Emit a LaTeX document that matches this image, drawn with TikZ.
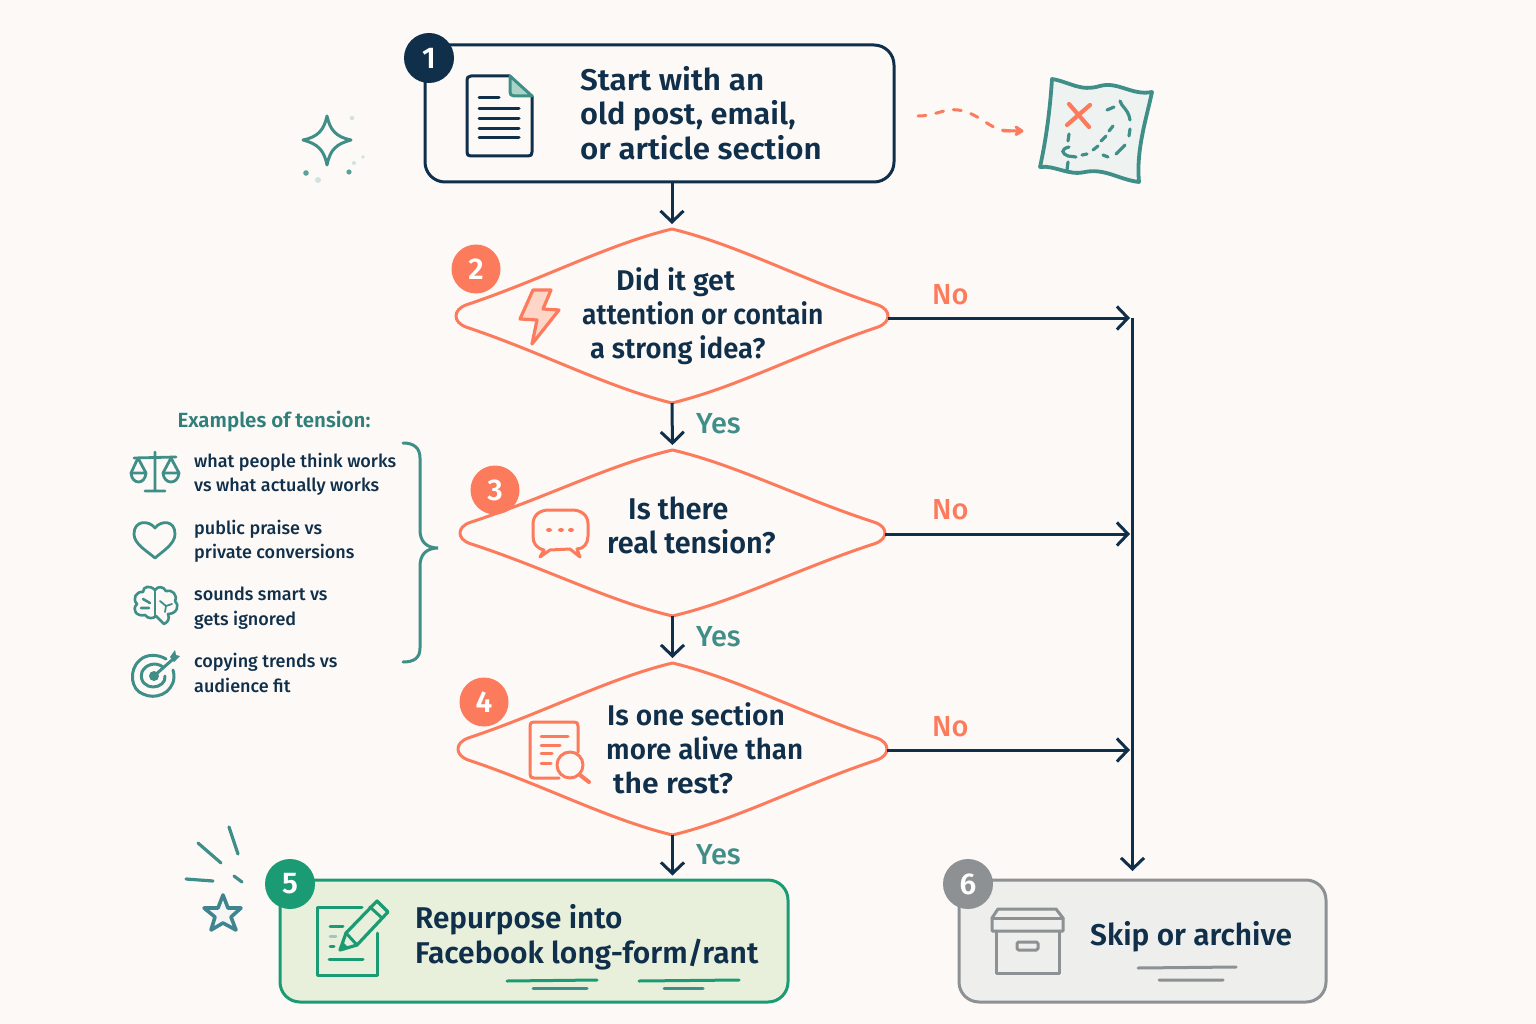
\documentclass[tikz,border=0pt]{standalone}
\usepackage{fontspec}
\usepackage{graphicx}
\setmainfont{Fira Sans}[UprightFont={* Medium},BoldFont={* SemiBold}]
\usetikzlibrary{shapes.geometric,arrows.meta,calc}
\definecolor{navy}{HTML}{0F2F4A}
\definecolor{coral}{HTML}{FB7B5C}
\definecolor{teal}{HTML}{3F8F88}
\definecolor{tealtx}{HTML}{2F7F7A}
\definecolor{leaf}{HTML}{1B9B74}
\definecolor{slate}{HTML}{8D9193}
\definecolor{paper}{HTML}{FDF9F6}
\newcommand\sx[2]{\scalebox{#1}[1]{#2}}
\newcommand\dmdpath{(-1,0) .. controls (-1,-.05) and (-.985,-.1) .. (-.95,-.13) .. controls (-.6,-.42) and (-.3,-.82) .. (0,-1)
 .. controls (.3,-.82) and (.6,-.42) .. (.95,-.13) .. controls (.985,-.1) and (1,-.05) .. (1,0)
 .. controls (1,.05) and (.985,.1) .. (.95,.13) .. controls (.6,.42) and (.3,.82) .. (0,1)
 .. controls (-.3,.82) and (-.6,.42) .. (-.95,.13) .. controls (-.985,.1) and (-1,.05) .. (-1,0) -- cycle}
\tikzset{
 x=1pt,y=-1pt,
 flow/.style={line width=3pt,draw=navy,-{Straight Barb[length=11pt,width=23pt,line width=3pt]}},
 bx/.style={rectangle,rounded corners=20pt,line width=3pt,inner sep=0pt},
 dnode/.style={diamond,inner sep=0pt,outer sep=0pt},
 dline/.style={line width=3pt,draw=coral,line join=round,fill=none},
 badge/.style={circle,inner sep=0pt,text=white,font=\fontsize{30}{30}\selectfont\bfseries},
 ttl/.style={anchor=west,align=left,text=navy,inner sep=0pt,font=\fontsize{30}{34.5}\selectfont\bfseries},
 tts/.style={anchor=west,align=left,text=navy,inner sep=0pt,font=\fontsize{28.5}{34}\selectfont\bfseries},
 small/.style={anchor=west,align=left,text=navy,inner sep=0pt,font=\fontsize{18}{24.5}\selectfont},
 yes/.style={text=teal,inner sep=0pt,font=\fontsize{29}{29}\selectfont},
 no/.style={text=coral,inner sep=0pt,font=\fontsize{29}{29}\selectfont},
 ico/.style={line cap=round,line join=round},
}
\begin{document}
\begin{tikzpicture}
\useasboundingbox (0,0) rectangle (1536,1024);
\fill[paper] (0,0) rectangle (1536,1024);

% boxes
\node[bx,draw=navy,fill=paper,minimum width=469,minimum height=137] (b1) at (659.5,113.5) {};
\node[bx,draw=leaf,fill={rgb,255:red,232;green,240;blue,220},minimum width=508,minimum height=122] (b5) at (534,941) {};
\node[bx,draw=slate,fill={rgb,255:red,238;green,238;blue,236},minimum width=367,minimum height=122] (b6) at (1142.5,941) {};

% decision diamonds
\node[dnode,minimum width=432,minimum height=174] (d2) at (672,316) {};
\node[dnode,minimum width=425,minimum height=166] (d3) at (672.5,533) {};
\node[dnode,minimum width=429,minimum height=172] (d4) at (672.5,749) {};
\begin{scope}[shift={(672,316)},xscale=216,yscale=87]\path[dline] \dmdpath;\end{scope}
\begin{scope}[shift={(672.5,533)},xscale=212.5,yscale=83]\path[dline] \dmdpath;\end{scope}
\begin{scope}[shift={(672.5,749)},xscale=214.5,yscale=86]\path[dline] \dmdpath;\end{scope}

% connectors
\coordinate (t2) at (1130,318);
\coordinate (t3) at (1130,534);
\coordinate (t4) at (1130,750);
\coordinate (t0) at (1132.5,318);
\coordinate (t9) at (1132.5,871);
\coordinate (d2e) at (888,318);
\coordinate (d3e) at (885,534);
\coordinate (d4e) at (887,750);
\draw[flow,shorten >=5pt] (b1.south -| d2.north) -- (d2.north);
\draw[flow,shorten >=5pt] (d2.south) -- (d3.north);
\draw[flow,shorten >=5pt] (d3.south) -- (d4.north);
\draw[flow,shorten >=3pt] (d4.south) -- (b5.north -| d4.south);
\draw[flow] (d2e) -- (t2);
\draw[flow] (d3e) -- (t3);
\draw[flow] (d4e) -- (t4);
\draw[flow] (t0) -- (t9);

% edge labels
\node[no,anchor=west] (n2) at (932,295) {No};
\node[no,anchor=west] (n3) at (932,510) {No};
\node[no,anchor=west] (n4) at (932,727) {No};
\node[yes,anchor=west] (y2) at (696,424) {Yes};
\node[yes,anchor=west] (y3) at (696,637) {Yes};
\node[yes,anchor=west] (y4) at (696,855) {Yes};

% main text
\node[ttl] (tx1) at (580,113) {\sx{1.048}{Start with an}\\\sx{1.024}{old post, email,}\\\sx{1.042}{or article section}};
\node[tts] (tx2) at (582,316) {\hspace*{34pt}\sx{1.007}{Did it get}\\\sx{.929}{attention or contain}\\\hspace*{8pt}\sx{.963}{a strong idea?}};
\node[ttl] (tx3) at (607,525.5) {\hspace*{21pt}\sx{.97}{Is there}\\\sx{.96}{real tension?}};
\node[tts] (tx4) at (606,748.5) {\hspace*{1pt}\sx{.988}{Is one section}\\\sx{.975}{more alive than}\\\hspace*{7pt}\sx{1.057}{the rest?}};
\node[ttl] (tx5) at (415,937) {\sx{.99}{Repurpose into}\\\sx{1.0}{Facebook long-form/rant}};
\node[ttl] (tx6) at (1090,937) {\sx{.995}{Skip or archive}};

% badges
\node[badge,fill=navy,minimum size=50] (c1) at (429,58) {1};
\node[badge,fill=coral,minimum size=49] (c2) at (476,269) {2};
\node[badge,fill=coral,minimum size=49] (c3) at (495,490) {3};
\node[badge,fill=coral,minimum size=49] (c4) at (484,702) {4};
\node[badge,fill=leaf,minimum size=50] (c5) at (290,884) {5};
\node[badge,fill=slate,minimum size=50] (c6) at (968,884) {6};

% side list
\node[anchor=center,text=tealtx,inner sep=0pt,font=\fontsize{20.5}{24}\selectfont\bfseries] (ex) at (274,422) {Examples of tension:};
\node[small] (s1) at (194,474.5) {what people think works\\vs what actually works};
\node[small] (s2) at (194,541.5) {public praise vs\\private conversions};
\node[small] (s3) at (194,608) {sounds smart vs\\gets ignored};
\node[small] (s4) at (194,673) {copying trends vs\\audience fit};
\draw[teal,line width=3pt,line cap=round] (403,443) .. controls (414,443) and (420,448) .. (420,458) -- (420,530) .. controls (420,541) and (426,548) .. (438,548) .. controls (426,548) and (420,555) .. (420,566) -- (420,648) .. controls (420,658) and (414,662) .. (403,662);

% document icon
\begin{scope}[ico,navy,line width=3pt]
\draw (510,76) -- (471,76) .. controls (468,76) and (467,78) .. (467,80) -- (467,152) .. controls (467,155) and (468,156) .. (471,156) -- (528,156) .. controls (531,156) and (532,155) .. (532,152) -- (532,96);
\fill[fill={rgb,255:red,168;green,212;blue,200},draw=teal] (510,76) -- (532,96) -- (514,96) .. controls (511,96) and (510,94) .. (510,92) -- cycle;
\draw (479,98) -- (499,98) (479,109) -- (519,109) (479,119) -- (519,119) (479,129) -- (519,129) (479,138) -- (519,138);
\end{scope}

% sparkle
\draw[teal,line width=3pt,line join=round] (327,116) .. controls (330,130) and (336,137) .. (351,140) .. controls (336,144) and (330,150) .. (327,165) .. controls (324,150) and (318,144) .. (303,140) .. controls (318,137) and (324,130) .. (327,116) -- cycle;
\fill[teal!25] (352,118) circle (2.2) (363,157) circle (1.8) (354,163) circle (2) (318,180) circle (3);
\fill[teal!85] (349,172) circle (2.6) (306,173) circle (2.8);

% dashed coral arrow
\draw[coral,line width=3pt,line cap=round,dash pattern=on 8pt off 10pt] (918,116) .. controls (935,116) and (945,108) .. (958,110) .. controls (975,112) and (985,124) .. (1000,130) -- (1012,131);
\draw[coral,line width=3pt,line cap=round,line join=round] (1003,131) -- (1021,131) (1016,127) -- (1022,131) -- (1016,134.5);

% map
\draw[teal,line width=3.8pt,line join=round,fill={rgb,255:red,238;green,243;blue,242}] (1052,79) .. controls (1070,82) and (1080,92) .. (1100,86) .. controls (1118,81) and (1132,96) .. (1152,92) .. controls (1146,120) and (1136,150) .. (1139,182) .. controls (1120,180) and (1105,168) .. (1085,172) .. controls (1068,176) and (1055,165) .. (1040,167) .. controls (1046,140) and (1050,110) .. (1052,79) -- cycle;
\draw[coral,line width=4.2pt,line cap=round] (1069,104) -- (1089,127) (1090,105) -- (1067,125);
\begin{scope}[teal,line width=3.2pt,line cap=round]
\draw (1069,134) -- (1068,141);
\draw (1069,147) .. controls (1060,149) and (1062,154) .. (1068,156) -- (1076,157);
\draw (1068,162) -- (1067,170);
\draw (1082,155) -- (1087,154);
\draw (1093,150) -- (1098,146) (1101,141) -- (1106,136) (1109,131) -- (1113,126);
\draw (1107,110) -- (1114,107);
\draw (1120,101) -- (1122,105) .. controls (1126,110) and (1129,113) .. (1130,120);
\draw (1130,129) -- (1129,136);
\draw (1125,145) -- (1116,154);
\draw (1108,157) -- (1103,155);
\end{scope}

% scale icon
\begin{scope}[ico,teal,line width=2.8pt]
\draw (155,452) -- (155,491) (145,491) -- (165,491) (134,458) -- (176,457);
\draw (138,458) -- (131,473) (138,458) -- (146,473) (171,458) -- (163,473) (171,458) -- (179,473);
\draw (131,473) -- (146,473) .. controls (145,485) and (132,485) .. (131,473) -- cycle;
\draw (163,473) -- (179,473) .. controls (178,485) and (164,485) .. (163,473) -- cycle;
\end{scope}
% heart
\draw[teal,line width=2.8pt,line join=round] (155,528) .. controls (149,520) and (134,520) .. (134,534) .. controls (134,544) and (147,551) .. (155,558) .. controls (163,551) and (175,544) .. (175,534) .. controls (175,520) and (161,520) .. (155,528) -- cycle;
% brain
\begin{scope}[ico,teal,line width=2.6pt]
\draw (155,590) .. controls (150,585) and (143,586) .. (143,592) .. controls (136,591) and (132,599) .. (137,604) .. controls (131,610) and (137,617) .. (145,615) .. controls (148,619) and (153,619) .. (156,616) -- (164,624) .. controls (168,622) and (170,619) .. (168,614) .. controls (177,614) and (180,605) .. (175,601) .. controls (178,595) and (172,589) .. (166,591) .. controls (163,586) and (158,586) .. (155,590) -- cycle;
\draw (155,590) -- (155,616);
\draw (143,599) -- (150,603) (141,608) -- (149,608);
\draw[line width=1.8pt] (160,601) -- (166,606) -- (172,604) (166,606) -- (165,612);
\end{scope}
% target
\begin{scope}[ico,teal,line width=3pt]
\draw (166,659) .. controls (158,654) and (146,654) .. (140,660) .. controls (128,670) and (131,690) .. (143,694) .. controls (155,700) and (172,694) .. (174,678) .. controls (174,675) and (174,673) .. (173,670);
\draw (163,667) .. controls (155,661) and (145,665) .. (142,672) .. controls (139,682) and (147,687) .. (153,687) .. controls (160,687) and (166,682) .. (165,676);
\fill (154,676) circle (5);
\draw (154,676) -- (172,660);
\fill (170,657) -- (175,650) -- (176,655) -- (180,656) -- (174,662) -- cycle;
\end{scope}

% bolt
\draw[coral,line width=3.2pt,line join=round,fill={rgb,255:red,255;green,213;blue,200}] (533,290) -- (551,290) -- (543,309) -- (559,310) -- (532,344) -- (537,320) -- (520,319) -- cycle;

% chat
\begin{scope}[ico,coral,line width=3pt]
\draw (550,550) -- (540,557) -- (544,550) .. controls (536,548) and (533,543) .. (533,536) -- (533,524) .. controls (533,515) and (540,510) .. (549,510) -- (572,510) .. controls (581,510) and (588,515) .. (588,524) -- (588,536) .. controls (588,543) and (584,549) .. (577,549) -- (580,557) -- (570,549) -- cycle;
\fill (549,530) ellipse (3 and 2) (561,530) ellipse (3 and 2) (571,530) ellipse (3 and 2);
\end{scope}

% document + lens
\begin{scope}[ico,coral,line width=3pt]
\draw (578,752) -- (578,726) .. controls (578,723) and (577,722) .. (574,722) -- (534,722) .. controls (531,722) and (530,723) .. (530,726) -- (530,774) .. controls (530,777) and (531,778) .. (534,778) -- (559,778);
\draw (541,736) -- (568,736) (541,745) -- (560,745) (541,753) -- (552,753) (541,763) -- (551,763);
\draw (570,765) circle (13);
\draw[line width=4pt] (580,775) -- (589,782);
\end{scope}

% burst + star
\begin{scope}[ico,teal,line width=3.2pt]
\draw (229,827) -- (238,854) (198,843) -- (221,863) (186,879) -- (213,881) (234,876) -- (242,882);
\draw[draw={rgb,255:red,63;green,133;blue,144},fill=black!4,line width=3.6pt] (223,895) -- (228,908) -- (241,908) -- (231,917) -- (236,930) -- (223,923) -- (211,930) -- (215,917) -- (204,908) -- (218,908) -- cycle;
\end{scope}

% pencil icon
\begin{scope}[ico,leaf,line width=3pt]
\draw (362,907) -- (317,907) -- (317,975) -- (377,975) -- (377,933);
\draw (329,959) -- (363,959) (330,926) -- (343,926);
\draw[teal!50] (330,936) -- (336,936);
\draw (330,946) -- (334,946);
\draw[line width=3.2pt] (340,950) -- (346,933) -- (377,901) -- (388,912) -- (357,945) -- cycle;
\draw (370,907) -- (382,918) (346,933) -- (357,945);
\fill (340,950) -- (343,942) -- (348,947) -- cycle;
\end{scope}
\begin{scope}[line cap=round]
\draw[leaf,line width=3pt] (507,981) -- (597,980) (639,981) -- (739,980);
\draw[teal,line width=3pt] (533,988) -- (587,988) (664,988) -- (703,988);
\end{scope}

% archive box
\begin{scope}[ico,slate,line width=3pt]
\draw (998,909) -- (1056,909) -- (1063,918) -- (1063,931) -- (992,931) -- (992,918) -- cycle;
\draw (992,918) -- (1063,918);
\draw (996,931) -- (996,973) -- (1059,973) -- (1059,931);
\draw[rounded corners=1.5pt] (1017,942) rectangle (1038,950);
\draw[line width=3pt] (1138,968) -- (1236,967) (1159,980) -- (1223,980);
\end{scope}
\end{tikzpicture}
\end{document}
